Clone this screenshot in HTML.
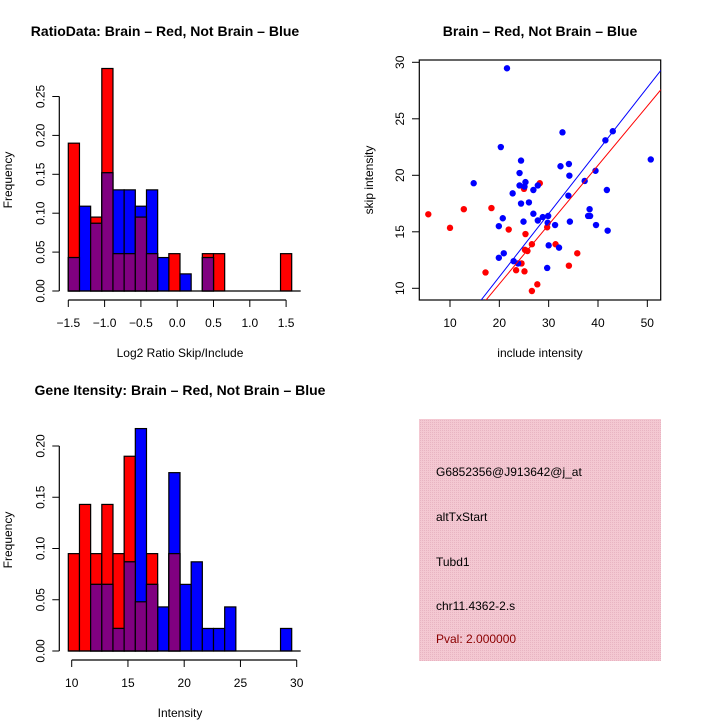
<!DOCTYPE html>
<html><head><meta charset="utf-8"><style>
body{margin:0;background:#fff}
svg{display:block;font-family:"Liberation Sans",Arial,sans-serif}
</style></head><body>
<svg id="s" width="720" height="720" viewBox="0 0 720 720" xmlns="http://www.w3.org/2000/svg">
<rect width="720" height="720" fill="#fff"/>
<text x="165" y="36" font-size="14" font-weight="bold" text-anchor="middle">RatioData: Brain – Red, Not Brain – Blue</text>
<text x="540" y="36" font-size="14" font-weight="bold" text-anchor="middle">Brain – Red, Not Brain – Blue</text>
<text x="180" y="395" font-size="14" font-weight="bold" text-anchor="middle">Gene Itensity: Brain – Red, Not Brain – Blue</text>
<text x="180" y="357" font-size="12" text-anchor="middle">Log2 Ratio Skip/Include</text>
<text x="180" y="717" font-size="12" text-anchor="middle">Intensity</text>
<text x="540" y="357" font-size="12" text-anchor="middle">include intensity</text>
<text transform="translate(12,180) rotate(-90)" font-size="12" text-anchor="middle">Frequency</text>
<text transform="translate(12,540) rotate(-90)" font-size="12" text-anchor="middle">Frequency</text>
<text transform="translate(373,180) rotate(-90)" font-size="12" text-anchor="middle">skip intensity</text>
<g>
<defs><pattern id="hatch" width="2" height="2" patternUnits="userSpaceOnUse"><rect width="2" height="2" fill="#f4c8d2"/><rect width="1" height="1" fill="#e8b4c2"/></pattern></defs>
<rect x="419" y="419" width="242" height="242" fill="url(#hatch)"/>
<text x="436" y="476" font-size="12">G6852356@J913642@j_at</text>
<text x="436" y="521" font-size="12">altTxStart</text>
<text x="436" y="566" font-size="12">Tubd1</text>
<text x="436" y="610" font-size="12">chr11.4362-2.s</text>
<text x="436" y="643" font-size="12" fill="#8b0000">Pval: 2.000000</text>
</g>
</svg>
<script>
// Ratio histogram data (20 bins)
const ratioRed  = [0.190,0,0.095,0.286,0.048,0.048,0.095,0.048,0,0.048,0,0,0.048,0.048,0,0,0,0,0,0.048];
const ratioBlue = [0.043,0.109,0.087,0.152,0.130,0.130,0.109,0.130,0.043,0,0.022,0,0.043,0,0,0,0,0,0,0];
const ratioXTicks = [-1.5,-1.0,-0.5,0.0,0.5,1.0,1.5];
const ratioYTicks = [0,0.05,0.10,0.15,0.20,0.25];
// Intensity histogram data (20 bins)
const intRed  = [0.095,0.143,0.095,0.143,0.095,0.190,0.048,0.095,0,0.095,0,0,0,0,0,0,0,0,0,0];
const intBlue = [0,0,0.065,0.065,0.022,0.087,0.217,0.065,0.043,0.174,0.065,0.087,0.022,0.022,0.043,0,0,0,0,0.022];
const intXTicks = [10,15,20,25,30];
const intYTicks = [0,0.05,0.10,0.15,0.20];
// Scatter data
const redX = [5.6,10.0,12.8,18.4,21.9,25.3,25.0,28.2,29.7,26.6,31.4,25.2,25.7,35.8,24.5,23.4,25.1,34.1,17.2,27.7,26.6];
const redY = [16.55,15.35,17.0,17.1,15.2,14.8,18.8,19.3,15.4,13.9,13.9,13.4,13.3,13.1,12.2,11.6,11.5,12.0,11.4,10.35,9.76];
const blueX = [21.55,32.8,43.0,41.5,20.3,24.4,34.1,32.4,50.7,24.1,34.2,39.5,14.8,25.3,24.1,25.1,27.8,37.3,26.9,41.8,22.7,34.0,24.4,26.0,38.3,26.9,28.8,29.9,27.8,29.8,38.0,38.4,20.7,24.9,34.3,19.9,39.6,31.3,41.96,30.0,32.1,19.9,20.9,22.9,23.8,29.7];
const blueY = [29.47,23.8,23.9,23.1,22.5,21.3,21.0,20.8,21.4,20.2,19.97,20.4,19.3,19.4,19.1,19.0,19.1,19.5,18.7,18.7,18.4,18.2,17.5,17.6,17.0,16.6,16.3,16.4,16.0,15.8,16.4,16.4,16.2,15.9,15.9,15.5,15.6,15.6,15.1,13.8,13.6,12.7,13.1,12.4,12.2,11.8];
const fitBlue = [-0.14,0.558];
const fitRed = [-0.12,0.525];
const scXTicks = [10,20,30,40,50];
const scYTicks = [10,15,20,25,30];

const svg = document.getElementById('s');
const NS = 'http://www.w3.org/2000/svg';
function mk(tag, attrs){const e=document.createElementNS(NS,tag);for(const k in attrs)e.setAttribute(k,attrs[k]);svg.appendChild(e);return e;}

function hist(red, blue, binX0, binX1, yAt, baseY, xScale, xTicks, xAxisY, yTicks, yAxisX, fmtX, pre){
  const n = red.length, w = (binX1-binX0)/n;
  const groups = [[red,'#ff0000','red'],[blue,'#0000ff','blue'],[red.map((v,i)=>Math.min(v,blue[i])),'#800080','overlap']];
  groups.forEach(([arr,col,nm])=>{
    arr.forEach((v,i)=>{
      if(v<=0) return;
      const r = mk('rect',{x:binX0+i*w,y:yAt(v),width:w,height:baseY-yAt(v),fill:col,stroke:'#000','stroke-width':1.2});
      
      
    });
  });
  const b = mk('line',{x1:binX0,x2:300.7,y1:baseY,y2:baseY,stroke:'#000','stroke-width':1.2});
  
  
  const xa = mk('line',{x1:xScale(xTicks[0]),x2:xScale(xTicks[xTicks.length-1]),y1:xAxisY,y2:xAxisY,stroke:'#000','stroke-width':1.2});
  
  
  xTicks.forEach(t=>{
    mk('line',{x1:xScale(t),x2:xScale(t),y1:xAxisY,y2:xAxisY+7,stroke:'#000'});
    const tx = mk('text',{x:xScale(t),y:xAxisY+27,'font-size':12,'text-anchor':'middle'});
    tx.textContent = fmtX(t);
    
    
  });
  const ya = mk('line',{x1:yAxisX,x2:yAxisX,y1:yAt(yTicks[0]),y2:yAt(yTicks[yTicks.length-1]),stroke:'#000','stroke-width':1.2});
  
  
  yTicks.forEach(t=>{
    mk('line',{x1:yAxisX-7,x2:yAxisX,y1:yAt(t),y2:yAt(t),stroke:'#000'});
    const tx = mk('text',{transform:`translate(${yAxisX-15},${yAt(t)}) rotate(-90)`,'font-size':12,'text-anchor':'middle'});
    tx.textContent = t.toFixed(2);
    
    
  });
}
const rX = v=>68.3+(v+1.5)*72.6;
const rY = v=>291-v*778;
hist(ratioRed, ratioBlue, 68.3, 291.7, rY, 291, rX, ratioXTicks, 300, ratioYTicks, 59.3, t=>t.toFixed(1).replace('-','\u2212'), 'ratio');
const iX = v=>71.7+(v-10)*11.25;
const iY = v=>651-v*1025;
hist(intRed, intBlue, 68.3, 291.7, iY, 651, iX, intXTicks, 660, intYTicks, 59.3, t=>String(t), 'intensity');

// scatter
const sx = v=>450+(v-10)*4.933;
const sy = v=>288.3-(v-10)*11.3;
const box = mk('rect',{x:419.3,y:60,width:241.4,height:240,fill:'none',stroke:'#000','stroke-width':1.2});


scXTicks.forEach(t=>{
  mk('line',{x1:sx(t),x2:sx(t),y1:300,y2:307,stroke:'#000'});
  const tx = mk('text',{x:sx(t),y:327,'font-size':12,'text-anchor':'middle'});
  tx.textContent = t;
  
  
});
scYTicks.forEach(t=>{
  mk('line',{x1:412,x2:419.3,y1:sy(t),y2:sy(t),stroke:'#000'});
  const tx = mk('text',{transform:`translate(404,${sy(t)}) rotate(-90)`,'font-size':12,'text-anchor':'middle'});
  tx.textContent = t;
  
  
});
redX.forEach((x,i)=>{
  const c = mk('circle',{cx:sx(x),cy:sy(redY[i]),r:3.2,fill:'#ff0000'});
  
  
});
blueX.forEach((x,i)=>{
  const c = mk('circle',{cx:sx(x),cy:sy(blueY[i]),r:3.2,fill:'#0000ff'});
  
  
});
const cp = document.createElementNS(NS,'clipPath'); cp.setAttribute('id','sc');
const cr = document.createElementNS(NS,'rect'); cr.setAttribute('x',419.3);cr.setAttribute('y',60);cr.setAttribute('width',241.4);cr.setAttribute('height',240);
cp.appendChild(cr); svg.appendChild(cp);
[[fitBlue,'#0000ff','blue-fit-line'],[fitRed,'#ff0000','red-fit-line']].forEach(([f,col,nm])=>{
  const l = mk('line',{x1:sx(0),y1:sy(f[0]),x2:sx(60),y2:sy(f[0]+f[1]*60),stroke:col,'stroke-width':1,'clip-path':'url(#sc)'});
  
  
});
</script>
</body></html>
